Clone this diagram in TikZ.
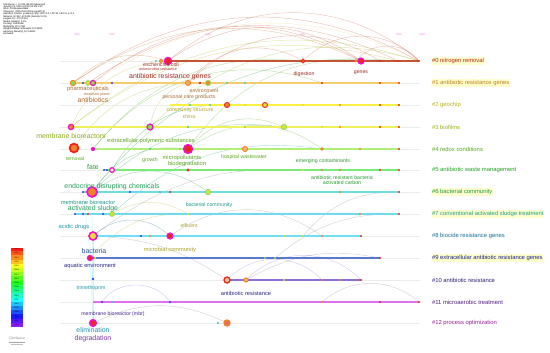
\documentclass[tikz,border=0pt]{standalone}
\usepackage{fontspec}
\setmainfont{Liberation Sans}
\usetikzlibrary{backgrounds}
% cluster label colours
\definecolor{cl0}{RGB}{178,34,20}
\definecolor{cl1}{RGB}{196,120,30}
\definecolor{cl2}{RGB}{190,175,20}
\definecolor{cl3}{RGB}{150,180,20}
\definecolor{cl4}{RGB}{80,170,20}
\definecolor{cl5}{RGB}{30,160,30}
\definecolor{cl6}{RGB}{30,150,70}
\definecolor{cl7}{RGB}{20,160,140}
\definecolor{cl8}{RGB}{20,110,150}
\definecolor{cl9}{RGB}{20,30,130}
\definecolor{cl10}{RGB}{40,30,120}
\definecolor{cl11}{RGB}{80,30,130}
\definecolor{cl12}{RGB}{150,30,150}
% timeline colours
\definecolor{ln0}{RGB}{195,85,55}
\definecolor{ln1}{RGB}{245,205,110}
\definecolor{ln2}{RGB}{250,240,70}
\definecolor{ln3}{RGB}{240,240,90}
\definecolor{ln4}{RGB}{175,240,120}
\definecolor{ln5}{RGB}{120,235,120}
\definecolor{ln6}{RGB}{110,220,230}
\definecolor{ln7}{RGB}{110,220,235}
\definecolor{ln8}{RGB}{110,225,245}
\definecolor{ln9}{RGB}{90,120,210}
\definecolor{ln10}{RGB}{140,110,215}
\definecolor{ln11}{RGB}{225,110,245}
% node label colours
\definecolor{lb0}{RGB}{160,40,30}
\definecolor{lb1}{RGB}{175,105,45}
\definecolor{lb2}{RGB}{175,160,40}
\definecolor{lb3}{RGB}{140,170,30}
\definecolor{lb4}{RGB}{90,165,30}
\definecolor{lb5}{RGB}{40,155,45}
\definecolor{lb6}{RGB}{35,155,90}
\definecolor{lb7}{RGB}{30,150,140}
\definecolor{lb8}{RGB}{30,150,170}
\definecolor{lb9}{RGB}{40,80,160}
\definecolor{lb10}{RGB}{40,40,140}
\definecolor{lb11}{RGB}{70,40,140}
\definecolor{lb12}{RGB}{120,50,170}
% year ring colours
\definecolor{hubring}{RGB}{240,20,200}
\definecolor{yrred}{RGB}{235,40,30}
\definecolor{yrorange}{RGB}{240,130,40}
\definecolor{yryellow}{RGB}{230,220,60}
\definecolor{yrgreen}{RGB}{140,220,80}
\definecolor{yrcyan}{RGB}{60,200,200}
\definecolor{yrblue}{RGB}{50,60,230}
\definecolor{hilite}{RGB}{255,255,205}
\tikzset{
  dot/.style={circle,inner sep=0pt,minimum size=1.6pt},
  hub/.style={circle,inner sep=0pt,line width=0.9pt,draw=hubring},
  yring/.style={circle,inner sep=0pt,line width=0.7pt},
  lbig/.style={font=\fontsize{5.2}{6}\selectfont,inner sep=0pt},
  lmid/.style={font=\fontsize{4.3}{5}\selectfont,inner sep=0pt},
  lsml/.style={font=\fontsize{3.9}{4.5}\selectfont,inner sep=0pt},
  ltiny/.style={font=\fontsize{2.7}{3}\selectfont,inner sep=0pt},
  clab/.style={font=\fontsize{4.4}{5}\selectfont,anchor=west,inner sep=0.6pt},
  arc/.style={line width=0.35pt,opacity=0.35}
}
\begin{document}
\begin{tikzpicture}[x=0.75pt,y=-0.75pt]
    \useasboundingbox (0,0) rectangle (550,353);
    % header
    \node[anchor=north west,align=left,inner sep=0pt,font=\fontsize{1.8}{1.85}\selectfont] (hdr) at (3,3)
      {CiteSpace, v. 6.2.R4 (64-bit) Advanced\\
       January 15, 2024 at 8:26:41 PM CST\\
       WoS: D:/citespace/data\\
       Timespan: 2005-2023 (Slice Length=1)\\
       Selection Criteria: g-index (k=25), LRF=3.0, L/N=10, LBY=5, e=1.0\\
       Network: N=512, E=1304 (Density=0.01)\\
       Largest CC: 470 (91\%)\\
       Nodes Labeled: 1.0\%\\
       Pruning: Pathfinder\\
       Modularity Q=0.7311\\
       Weighted Mean Silhouette S=0.8935\\
       Harmonic Mean(Q, S)=0.8042\\
       Excluded:};
    % years on top
    \foreach \x/\yr in {77/2005,112/2007,208/2012,303/2017,399/2022,422/2023}
      \node[text=hubring!70,font=\fontsize{1.8}{2}\selectfont,inner sep=0.3pt] (yr\yr) at (\x,35) {\yr};
    % grey guide lines
    \foreach \y in {61,83,105,127,149,170,192,214,236,258,280,302,323}
      \draw[black!8,line width=0.4pt] (60,\y) -- (420,\y);
    % coloured timelines
    \foreach \y/\a/\b/\c in {61/168/419/ln0,83/73/399/ln1,105/170/399/ln2,127/71/399/ln3,
        149/93/399/ln4,170/104/399/ln5,192/83/399/ln6,214/75/399/ln7,236/93/361/ln8,
        258/90/380/ln9,280/227/361/ln10,302/93/419/ln11}
      \draw[\c,line width=1pt] (\a,\y) -- (\b,\y);
    % cluster labels
    \foreach \y/\c/\t/\h in {61/cl0/{\#0 nitrogen removal}/hilite,
        83/cl1/{\#1 antibiotic resistance genes}/hilite,
        105/cl2/{\#2 geochip}/white,
        127/cl3/{\#3 biofilms}/white,
        149/cl4/{\#4 redox conditions}/white,
        170/cl5/{\#5 antibiotic waste management}/white,
        192/cl6/{\#6 bacterial community}/hilite,
        214/cl7/{\#7 conventional activated sludge treatment}/hilite,
        236/cl8/{\#8 biocide resistance genes}/white,
        258/cl9/{\#9 extracellular antibiotic resistance genes}/hilite,
        280/cl10/{\#10 antibiotic resistance}/white,
        302/cl11/{\#11 microaerobic treatment}/white,
        323/cl12/{\#12 process optimization}/white}
      \node[clab,text=\c,fill=\h] (cl-\y) at (431,\y) {\t};

    % row 0
    \node[dot,fill=yrcyan] (d0-156) at (156,61) {};
    \node[yring,draw=yrorange,fill=yryellow,minimum size=2.4pt] (d0-161) at (161,61) {};
    \node[hub,fill=yrred,minimum size=5.5pt] (ec) at (168,61) {};
    \node[yring,draw=yrred,fill=yrorange,minimum size=2.8pt] (dig) at (303,61) {};
    \node[dot,fill=yrorange,minimum size=2.4pt] (d0-356) at (356,61) {};
    \node[hub,fill=yrred,minimum size=4.5pt] (gen) at (361,61) {};
    \foreach \x in {380,398,419} \node[dot,fill=yrred] (d0-\x) at (\x,61) {};
    \node[lsml,text=lb0] (tec) at (161,64.5) {escherichia coli};
    \node[ltiny,text=lb0] (tam) at (158,69) {antimicrobial resistance};
    \node[lsml,text=lb0] (tdig) at (304,74) {digestion};
    \node[lsml,text=lb0] (tgen) at (361,73) {genes};

    % row 1
    \node[yring,draw=yrorange,fill=yrgreen,minimum size=4pt] (ph) at (73,83) {};
    \node[dot,fill=yrblue] (d1-83) at (83,83) {};
    \node[yring,draw=yrgreen,fill=yryellow,minimum size=3.5pt] (d1-88) at (88,83) {};
    \node[hub,fill=yrgreen,minimum size=3.8pt] (d1-93) at (93,83) {};
    \node[dot,fill=yrblue] (d1-112) at (112,83) {};
    \node[yring,draw=yrorange,fill=yrorange!70,minimum size=3.8pt] (arg) at (188,83) {};
    \node[dot,fill=yrred,minimum size=2.2pt] (d1-200) at (200,83) {};
    \node[yring,draw=yrgreen,fill=yrorange,minimum size=3.8pt] (env) at (208,83) {};
    \foreach \x/\c in {227/yrcyan,245/yrcyan,265/yryellow,322/yrred,380/yrred,399/yrred}
      \node[dot,fill=\c] (d1-\x) at (\x,83) {};
    \node[lmid,text=lb1] (tph) at (88,89) {pharmaceuticals};
    \node[ltiny,text=lb1] (ttp) at (97,95) {treatment plants};
    \node[lbig,text=lb1] (tab) at (93,100) {antibiotics};
    \node[lbig,text=lb0] (targ) at (170,77) {antibiotic resistance genes};
    \node[lsml,text=lb1] (tenv) at (204,91) {environment};
    \node[lsml,text=lb1] (tpcp) at (189,97) {personal care products};

    % row 2
    \node[yring,draw=yrred,fill=yrorange,minimum size=3.8pt] (d2-227) at (227,105) {};
    \node[yring,draw=yrred,fill=yryellow,minimum size=3.8pt] (d2-265) at (265,105) {};
    \foreach \x/\c in {190/yrcyan,210/yrcyan,245/yryellow,303/yryellow,340/yrorange,380/yrred,399/yrred}
      \node[dot,fill=\c] (d2-\x) at (\x,105) {};
    \node[lsml,text=lb2] (tcs) at (190,110) {community structure};
    \node[lsml,text=lb2] (tch) at (189,117) {china};

    % row 3
    \node[hub,fill=yrorange,minimum size=4pt] (mb) at (71,127) {};
    \node[hub,fill=yrgreen,minimum size=4.5pt] (d3-150) at (150,127) {};
    \node[yring,draw=yrgreen,fill=yryellow,minimum size=3.8pt] (d3-284) at (284,127) {};
    \foreach \x/\c in {188/yrcyan,245/yrgreen,322/yryellow,340/yrorange,380/yrred,399/yrred}
      \node[dot,fill=\c] (d3-\x) at (\x,127) {};
    \node[lbig,text=lb3] (tmb) at (71,136) {membrane bioreactors};

    % row 4
    \node[yring,draw=yrred,fill=yrorange,line width=1.4pt,minimum size=6.5pt] (rem) at (74,148) {};
    \node[dot,fill=hubring,minimum size=3.2pt] (eps) at (93,149) {};
    \node[hub,fill=yrred,line width=1.2pt,minimum size=6.5pt] (mp) at (188,149) {};
    \node[yring,draw=yrorange,fill=yrorange!60,minimum size=3.8pt] (d4-245) at (245,149) {};
    \node[dot,fill=yrorange,minimum size=2.8pt] (d4-322) at (322,149) {};
    \foreach \x/\c in {150/yrcyan,180/yrgreen,360/yrorange,399/yrred}
      \node[dot,fill=\c] (d4-\x) at (\x,149) {};
    \node[lmid,text=lb4] (teps) at (151,141) {extracellular polymeric substances};
    \node[lsml,text=lb4] (trem) at (75,159) {removal};
    \node[lsml,text=lb4] (tgro) at (150,160) {growth};
    \node[lmid,text=lb4] (tmp) at (182,158) {micropollutants};
    \node[lmid,text=lb4] (tbd) at (187,164) {biodegradation};
    \node[lsml,text=lb4] (thw) at (244,157) {hospital wastewater};
    \node[lsml,text=lb5] (tec2) at (323,161) {emerging contaminants};

    % row 5
    \node[dot,fill=yrblue] (d5-104) at (104,170) {};
    \node[dot,fill=yrblue] (d5-107) at (107,170) {};
    \node[hub,fill=yryellow!30,minimum size=3.5pt] (fate) at (112,170) {};
    \node[dot,fill=yrred,minimum size=2.4pt] (d5-188) at (188,170) {};
    \foreach \x/\c in {303/yryellow,322/yrorange,340/yrorange,380/yrred,399/yrred}
      \node[dot,fill=\c] (d5-\x) at (\x,170) {};
    \node[lbig,text=lb5] (tfate) at (93,167) {fate};
    \node[lsml,text=lb5] (tarb) at (342,178) {antibiotic resistant bacteria};
    \node[lsml,text=lb5] (tac) at (342,183) {activated carbon};

    % row 6
    \node[dot,fill=yrblue] (d6-83) at (83,192) {};
    \node[hub,fill=yrorange,line width=1.3pt,minimum size=7.5pt] (edc) at (92,192) {};
    \node[yring,draw=yrgreen,fill=yryellow,minimum size=3.8pt] (d6-208) at (208,192) {};
    \foreach \x/\c in {130/yrblue,160/yrcyan,170/yrred,340/yrorange,399/yrred}
      \node[dot,fill=\c] (d6-\x) at (\x,192) {};
    \node[lbig,text=lb6] (tedc) at (112,187) {endocrine disrupting chemicals};
    \node[lmid,text=lb7] (tmbr) at (88,202) {membrane bioreactor};

    % row 7
    \foreach \x/\c in {75/yrblue,83/yrblue,88/yrred,103/yrblue,188/yryellow,360/yrorange,399/yrred}
      \node[dot,fill=\c] (d7-\x) at (\x,214) {};
    \node[yring,draw=yrgreen,fill=yryellow,minimum size=3.5pt] (as) at (112,214) {};
    \node[lbig,text=lb6] (tas) at (93,209) {activated sludge};
    \node[lsml,text=lb7] (tbc) at (209,205) {bacterial community};

    % row 8
    \node[hub,fill=yryellow,line width=1.2pt,minimum size=6pt] (ad) at (93,236) {};
    \node[hub,fill=yrred,minimum size=4.5pt] (d8-170) at (170,236) {};
    \foreach \x/\c in {141/yrblue,150/yrorange,284/yryellow,303/yryellow,322/yrorange,361/yrred}
      \node[dot,fill=\c] (d8-\x) at (\x,236) {};
    \node[lmid,text=lb8] (tad) at (74,227) {acidic drugs};
    \node[lsml,text=lb2] (teff) at (189,226) {effluent};
    \node[lmid,text=lb2] (tmc) at (170,250) {microbial community};

    % row 9
    \node[hub,fill=yrred,minimum size=3.8pt] (bac) at (90,258) {};
    \foreach \x/\c in {95/yryellow,265/yrgreen,275/yrgreen,380/yrred}
      \node[dot,fill=\c] (d9-\x) at (\x,258) {};
    \node[lbig,text=lb9] (tbac) at (94,251) {bacteria};
    \node[lmid,text=lb10] (taq) at (90,266) {aquatic environment};

    % row 10
    \node[dot,fill=yrblue,minimum size=2.2pt] (tri) at (93,279) {};
    \node[yring,draw=yrred,fill=yrorange!50,line width=1pt,minimum size=4.5pt] (ar) at (227,280) {};
    \node[yring,draw=yrorange,fill=yrorange!60,minimum size=3.2pt] (d10-246) at (246,280) {};
    \foreach \x/\c in {284/yryellow,322/yrorange,340/yrorange,361/yrred}
      \node[dot,fill=\c] (d10-\x) at (\x,280) {};
    \node[lsml,text=lb8] (ttri) at (91,288) {trimethoprim};
    \node[lmid,text=lb10] (tar) at (246,293) {antibiotic resistance};

    % row 11
    \foreach \x/\c in {102/yrblue,112/yrcyan,170/yrblue,322/yrorange,380/yrred,419/yrred}
      \node[dot,fill=\c] (d11-\x) at (\x,302) {};
    \node[lsml,text=lb11] (tmbr2) at (113,314) {membrane bioreactor (mbr)};

    % row 12
    \node[hub,fill=yrred,line width=1.1pt,minimum size=5pt] (el) at (93,323) {};
    \node[dot,fill=yrcyan] (d12-218) at (218,323) {};
    \node[yring,draw=yrorange,fill=yrred!70,line width=1pt,minimum size=4.5pt] (d12-227) at (227,323) {};
    \node[lbig,text=lb8] (tel) at (93,330) {elimination};
    \node[lbig,text=lb12] (tdeg) at (93,339) {degradation};

    % citation arcs
    \begin{scope}[on background layer]
      \draw[arc,ln0] (ph) to[bend left=32] (d0-419);
      \draw[arc,cl1] (ph) to[bend left=30] (gen);
      \draw[arc,ln0] (d1-88) to[bend left=30] (d0-398);
      \draw[arc,ln1] (d1-93) to[bend left=30] (d0-419);
      \draw[arc,ln0] (d1-93) to[bend left=34] (gen);
      \draw[arc,ln0] (ec) to[bend left=35] (gen);
      \draw[arc,ln0] (ec) to[bend left=40] (d0-419);
      \draw[arc,ln0] (arg) to[bend left=40] (dig);
      \draw[arc,ln0] (arg) to[bend left=38] (d0-380);
      \draw[arc,ln0] (dig) to[bend left=45] (d0-419);
      \draw[arc,ln0] (d0-356) to[bend left=50] (d0-419);
      \draw[arc,cl1] (ph) to[bend left=30] (ec);
      \draw[arc,cl2] (mb) to[bend left=30] (ec);
      \draw[arc,cl2] (mb) to[bend left=26] (d0-398);
      \draw[arc,cl3] (mb) to[bend left=28] (d0-419);
      \draw[arc,cl3] (d3-150) to[bend left=30] (arg);
      \draw[arc,cl3] (d3-150) to[bend left=30] (d0-419);
      \draw[arc,cl4] (eps) to[bend left=28] (dig);
      \draw[arc,cl4] (eps) to[bend left=35] (d1-322);
      \draw[arc,cl3] (rem) to[bend left=25] (arg);
      \draw[arc,cl4] (mp) to[bend left=30] (d0-380);
      \draw[arc,cl4] (mp) to[bend left=35] (d3-284);
      \draw[arc,cl4] (mp) to[bend left=35] (d4-322);
      \draw[arc,cl5] (fate) to[bend left=30] (d2-227);
      \draw[arc,cl6] (edc) to[bend left=30] (mp);
      \draw[arc,cl6] (edc) to[bend left=25] (d3-284);
      \draw[arc,cl6] (edc) to[bend left=35] (d6-208);
      \draw[arc,cl6] (edc) to[bend left=28] (d0-398);
      \draw[arc,cl7] (as) to[bend left=25] (d4-322);
      \draw[arc,cl2] (as) to[bend left=30] (d7-188);
      \draw[arc,cl8] (ad) to[bend left=40] (d8-170);
      \draw[arc,black!50] (ad) to[bend left=20] (d5-303);
      \draw[arc,black!50] (ad) to[bend left=15] (ar);
      \draw[arc,cl2] (bac) to[bend left=25] (d7-188);
      \draw[arc,black!50] (d8-170) to[bend left=35] (d8-322);
      \draw[arc,black!50] (d9-275) to[bend left=20] (d7-399);
      \draw[arc,black!50] (d8-303) to[bend left=25] (d6-399);
      \draw[arc,black!50] (d10-246) to[bend left=20] (d9-380);
      \draw[arc,ln10] (ar) to[bend left=45] (d10-322);
      \draw[arc,ln10] (d10-246) to[bend left=45] (d10-361);
      \draw[arc,ln10] (d11-102) to[bend left=55] (d11-170);
      \draw[arc,black!50] (d11-322) to[bend left=40] (d11-419);
      \draw[arc,black!50] (el) to[bend left=25] (d12-227);
      \draw[arc,ln7] (edc) -- (el);
      \draw[arc,ln7] (ad) -- (el);
      \draw[arc,ln8] (bac) -- (el);
      \draw[arc,ln8] (d6-83) -- (tri);
    \end{scope}

    % year colour bar
    \foreach \i in {0,...,18} {
      \pgfmathsetmacro\hh{0.75*(18-\i)/18}
      \definecolor{barc}{hsb}{\hh,0.9,1}
      \pgfmathtruncatemacro\yy{2005+\i}
      \fill[barc] (10,{327-(\i+1)*4.21}) rectangle (23,{327-\i*4.21});
      \node[font=\fontsize{1.4}{1.5}\selectfont,inner sep=0pt] (bar\yy) at (16.5,{327-(\i+0.5)*4.21}) {\yy};
    }
    \draw[white,line width=0.6pt] (10,247) rectangle (23,327);
    % logo
    \node[text=black!45,font=\fontsize{2.6}{3}\selectfont,inner sep=0pt] (logo) at (17,339) {CiteSpace};
    \draw[black!35,line width=0.3pt] (9,342) -- (25,342);
    \draw[black!25,line width=0.2pt] (11,344) -- (23,344);
\end{tikzpicture}
\end{document}
